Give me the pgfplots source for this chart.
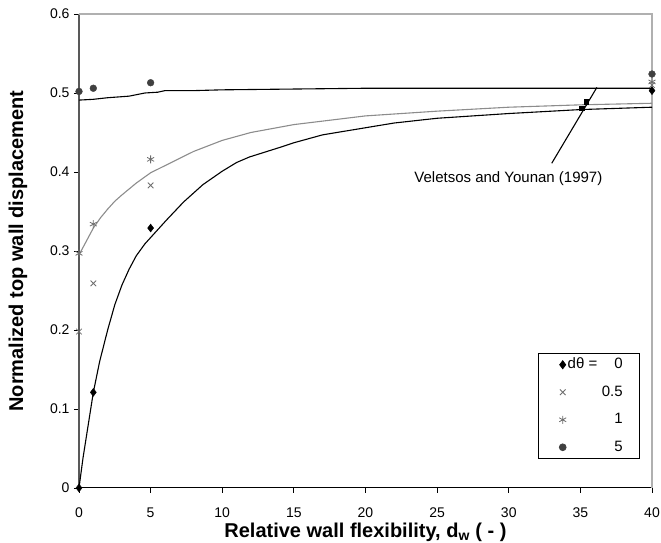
\documentclass[border=0pt]{standalone}
\usepackage{pgfplots}
\pgfplotsset{compat=1.18}
\usepackage{fontspec}
\setmainfont{Liberation Sans}
\usetikzlibrary{calc}
\definecolor{dgrey}{HTML}{404040}
\definecolor{mgrey}{HTML}{6E6E6E}
\definecolor{lgrey}{HTML}{8C8C8C}
\definecolor{bgrey}{HTML}{B0B0B0}
\newcommand{\legtxt}[1]{\makebox[68bp][l]{\makebox[55bp][r]{#1}}}
\newcommand{\legfirst}{\makebox[68bp][l]{\makebox[55bp][s]{dθ =\hfill 0}}}
\pgfplotsset{myleg/.style={legend image code/.code={%
  \path[draw=none] (0bp,0bp) -- (24bp,0bp);
  \draw[##1, line width=0.8bp] plot coordinates {(20bp,0bp)};}}}
\begin{document}
\begin{tikzpicture}
\begin{axis}[
  name=ax,
  width=573bp, height=474bp, scale only axis,
  xmin=0, xmax=40, ymin=0, ymax=0.6,
  axis x line=bottom, axis y line=left,
  x axis line style={-, black, line width=1bp},
  y axis line style={-, black!65, line width=1.2bp},
  xtick={0,5,...,40},
  ytick={0,0.1,0.2,0.3,0.4,0.5,0.6},
  yticklabels={0,0.1,0.2,0.3,0.4,0.5,0.6},
  tick align=outside,
  major tick length=5bp,
  tick style={black, line width=0.8bp},
  /pgf/number format/assume math mode=true,
  ticklabel style={font=\fontsize{14bp}{16bp}\selectfont},
  xticklabel style={yshift=-11bp},
  yticklabel style={xshift=-1bp},
  xlabel={Relative wall flexibility, d\textsubscript{w} ( - )},
  ylabel={Normalized top wall displacement},
  label style={font=\bfseries\fontsize{20bp}{23bp}\selectfont},
  xlabel style={at={(axis description cs:0.5,-0.093)}, anchor=center},
  ylabel style={at={(axis description cs:-0.1065,0.5)}, anchor=center},
  clip=false,
  legend cell align=left,
  legend style={at={(axis description cs:0.8016,0.284)}, anchor=north west,
    draw=black, line width=0.8bp, fill=white,
    font=\fontsize{15bp}{17bp}\selectfont,
    inner xsep=4bp, inner ysep=4bp,
    row sep=13.5bp,
    nodes={inner sep=0pt, text height=11bp, text depth=3bp},
    /tikz/every odd column/.append style={column sep=1bp}},
]
% border top and right
\draw[bgrey, line width=1.2bp] (rel axis cs:0,1) -- (rel axis cs:1,1) -- (rel axis cs:1,0);

% markers
\addplot[only marks, myleg, mark=diamond*, mark size=4bp, black] coordinates {
  (0,0) (1,0.121) (5,0.329) (40,0.503)};
\addlegendentry{\legfirst}
\addplot[only marks, myleg, mark=x, mark size=4bp, mgrey, mark options={line width=0.8bp}] coordinates {
  (0,0.198) (1,0.259) (5,0.383) (40,0.510)};
\addlegendentry{\legtxt{0.5}}
\addplot[only marks, myleg, mark=asterisk, mark size=4bp, mgrey, mark options={line width=0.8bp}] coordinates {
  (0,0.297) (1,0.334) (5,0.416) (40,0.514)};
\addlegendentry{\legtxt{1}}
\addplot[only marks, myleg, mark=*, mark size=3.4bp, dgrey] coordinates {
  (0,0.502) (1,0.506) (5,0.513) (40,0.524)};
\addlegendentry{\legtxt{5}}

% curves
\addplot[black, line width=1.1bp, forget plot] coordinates {
  (0,0.491) (1,0.492) (2,0.494) (3.5,0.496) (4.6,0.500) (5.5,0.501) (6,0.503)
  (8,0.503) (10,0.504) (15,0.505) (20,0.506) (30,0.506) (40,0.506)};
\addplot[lgrey, line width=1.1bp, forget plot] coordinates {
  (0,0.295) (0.5,0.312) (1,0.329) (1.5,0.342) (2,0.353) (2.5,0.363) (3,0.371)
  (4,0.386) (5,0.399) (6,0.408) (8,0.426) (10,0.440) (12,0.450) (15,0.460)
  (20,0.471) (25,0.477) (30,0.482) (35,0.485) (40,0.487)};
\addplot[black, line width=1.1bp, forget plot] coordinates {
  (0,0) (0.28,0.038) (1,0.121) (1.44,0.160) (2,0.200) (2.5,0.232) (3,0.257)
  (3.5,0.277) (4,0.294) (4.6,0.309) (5,0.317) (6.1,0.339) (7.3,0.362)
  (8.65,0.384) (10,0.401) (11,0.412) (11.9,0.419) (14,0.431) (15,0.437)
  (17,0.447) (20,0.456) (22,0.462) (25,0.468) (30,0.474) (35,0.479) (40,0.482)};

% Veletsos and Younan (1997)
\addplot[only marks, mark=square*, mark size=2.2bp, black, forget plot] coordinates {
  (35.1,0.481) (35.4,0.489)};
\addplot[black, line width=1.1bp, forget plot] coordinates {(33.0,0.411) (36.15,0.507)};
\node[anchor=west, inner sep=0pt, font=\fontsize{15bp}{17bp}\selectfont] at (axis cs:23.4,0.392) {Veletsos and Younan (1997)};
\end{axis}
\pgfresetboundingbox
\path ($(ax.south west)+(-79bp,-55bp)$) rectangle ($(ax.north east)+(9bp,14bp)$);
\end{tikzpicture}
\end{document}
